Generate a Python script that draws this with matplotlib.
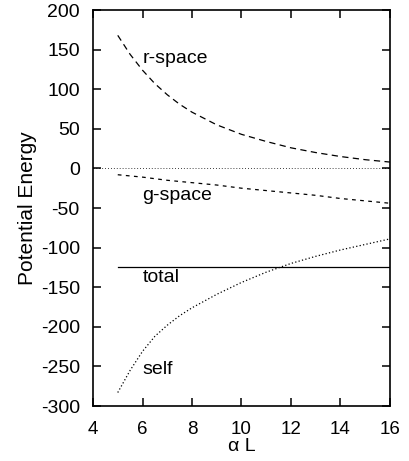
import matplotlib
matplotlib.use("Agg")
import matplotlib.pyplot as plt

plt.rcParams["font.family"] = ["Liberation Sans", "DejaVu Sans"]
plt.rcParams["axes.unicode_minus"] = False

alpha_l = [5, 5.5, 6, 6.5, 7, 7.5, 8, 9, 10, 11, 12, 13, 14, 15, 16]
r_space = [168, 144, 124, 107, 93, 81, 71, 55, 43, 34, 26, 20, 15, 11, 8]
g_space = [-8, -9.5, -11, -13, -15, -16.5, -18, -21, -25, -28, -31, -34, -38, -41, -44]
self_e = [-283, -255, -231, -212, -198, -186, -176, -159, -144, -131, -120, -111, -103, -96, -89]
total = [-125] * len(alpha_l)

fig = plt.figure(figsize=(4.09, 4.61), dpi=100)
ax = fig.add_axes([0.2274, 0.1193, 0.7261, 0.8590])

ax.axhline(0, color="black", lw=0.6, linestyle=(0, (1, 2.5)))
ax.plot(alpha_l, r_space, color="black", lw=0.9, linestyle=(0, (5, 3.5)))
ax.plot(alpha_l, g_space, color="black", lw=0.9, linestyle=(0, (3, 3.5)))
ax.plot(alpha_l, total, color="black", lw=0.9)
ax.plot(alpha_l, self_e, color="black", lw=0.9, linestyle=(0, (1, 1.8)))

ax.text(6, 133, "r-space", fontsize=14, va="baseline")
ax.text(6, -40, "g-space", fontsize=14, va="baseline")
ax.text(6, -143, "total", fontsize=14, va="baseline")
ax.text(6, -259, "self", fontsize=14, va="baseline")

ax.set_xlim(4, 16)
ax.set_ylim(-300, 200)
ax.set_xticks(range(4, 17, 2))
ax.set_yticks(range(-300, 201, 50))

ax.tick_params(direction="in", length=6, width=1.1, top=True, right=True,
               labelsize=14)
ax.tick_params(axis="y", pad=9.5)
ax.tick_params(axis="x", pad=11, labelsize=13.5)
for s in ax.spines.values():
    s.set_linewidth(1.2)

ax.set_xlabel("α L", fontsize=14, labelpad=0)
ax.set_ylabel("Potential Energy", fontsize=15, labelpad=3)

fig.savefig("out.png", dpi=100)
